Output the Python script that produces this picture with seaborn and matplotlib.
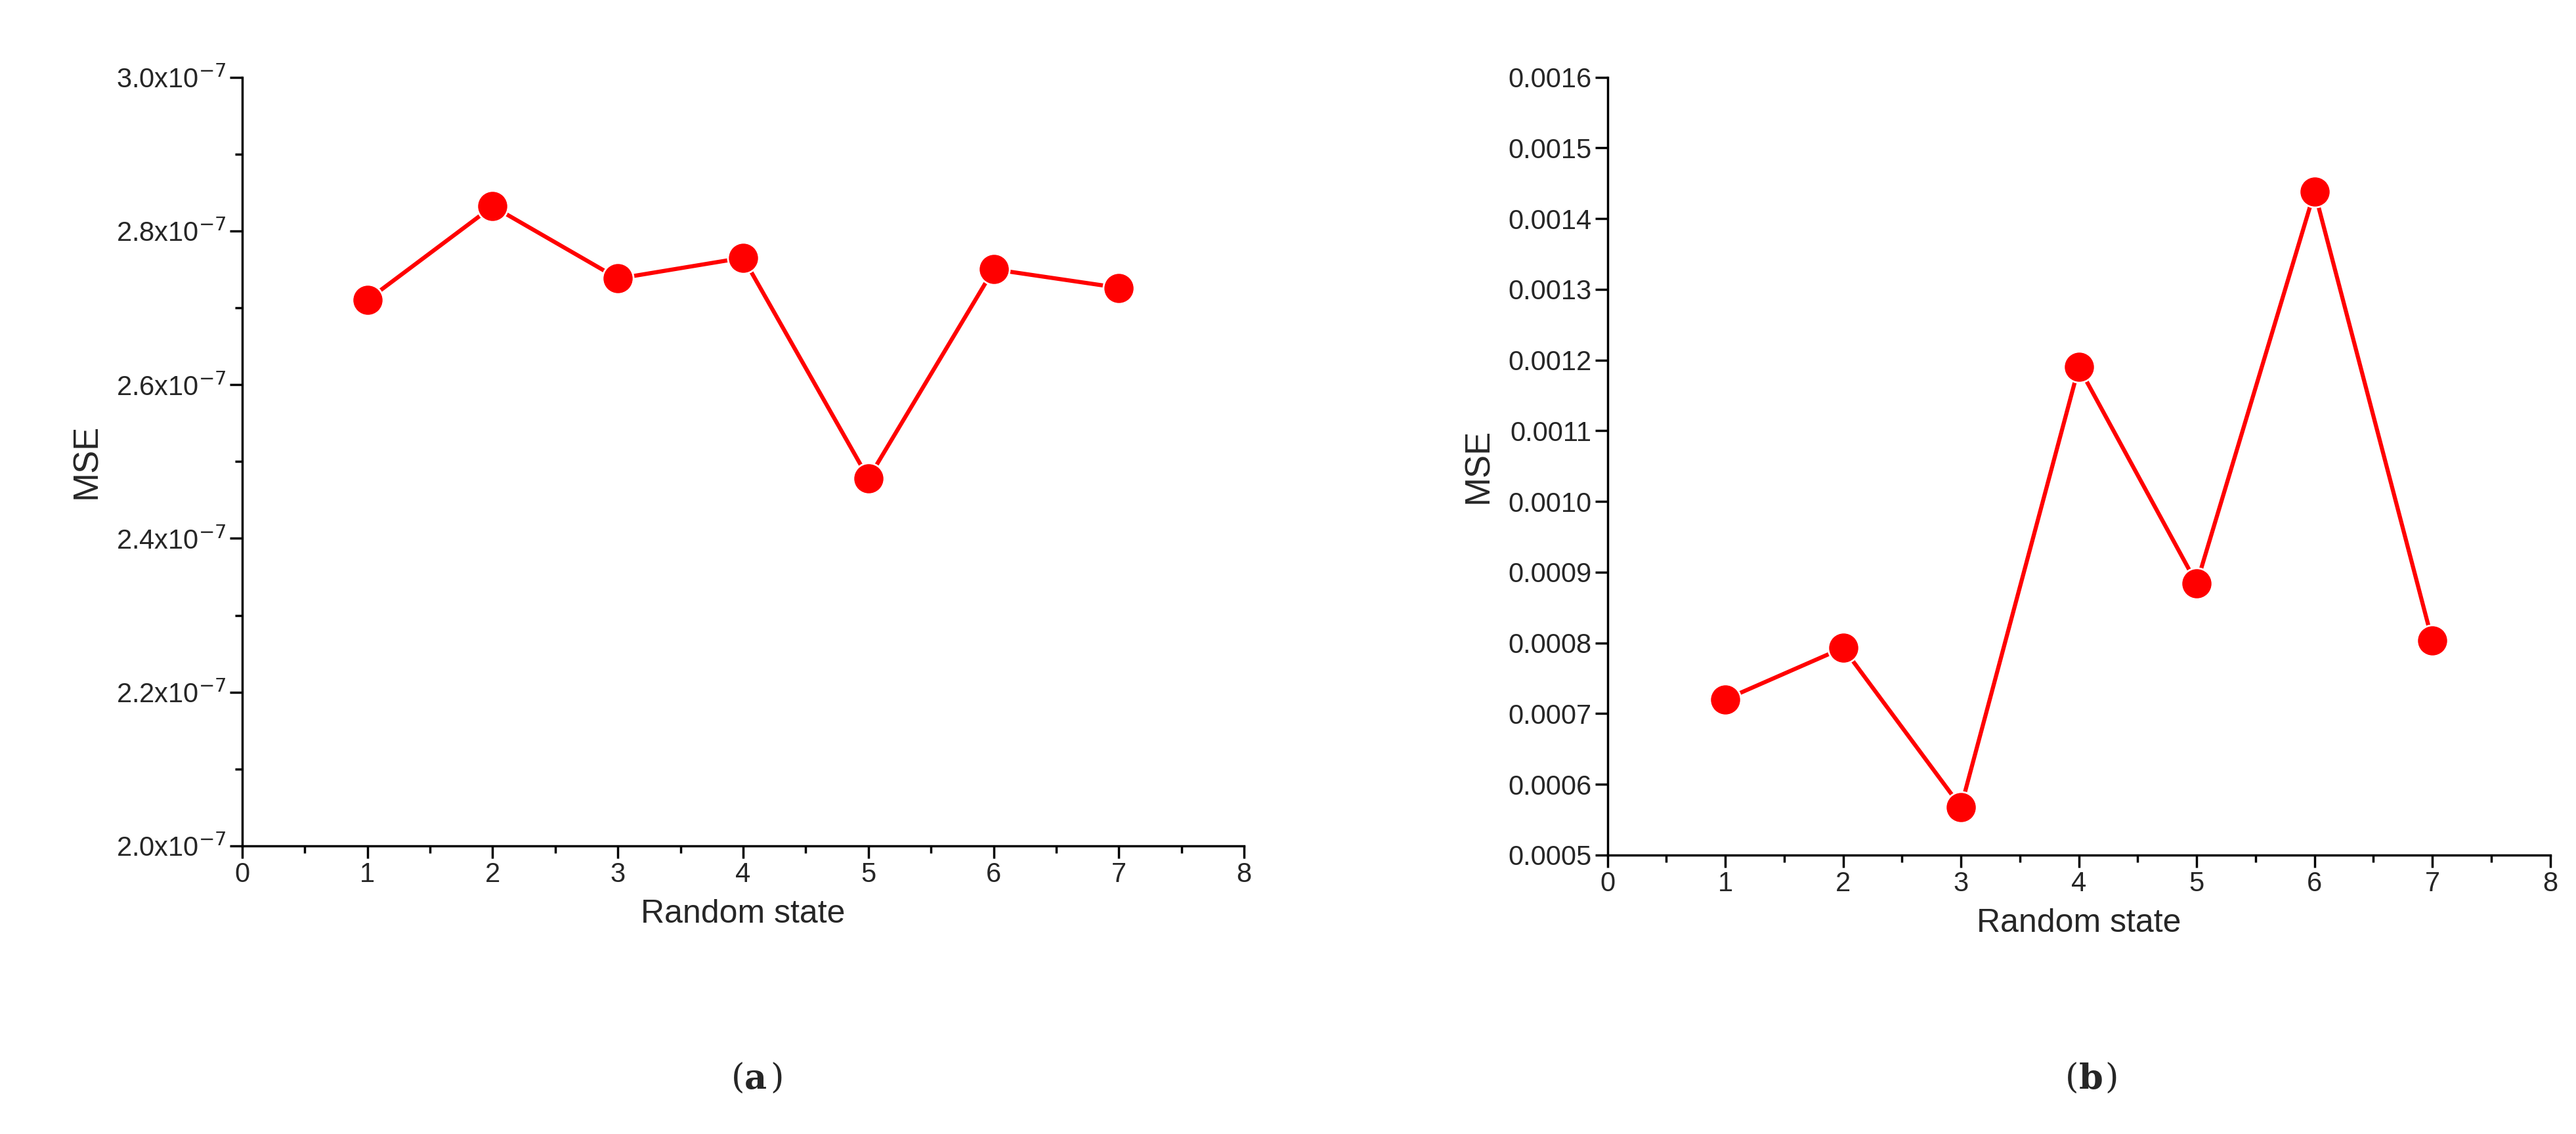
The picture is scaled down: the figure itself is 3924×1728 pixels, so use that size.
import matplotlib
matplotlib.use("Agg")
import matplotlib.pyplot as plt
import seaborn as sns
from matplotlib.ticker import MultipleLocator, FuncFormatter

random_state = [1, 2, 3, 4, 5, 6, 7]
mse_a = [2.71e-7, 2.832e-7, 2.738e-7, 2.765e-7, 2.478e-7, 2.75e-7, 2.726e-7]
mse_b = [0.00072, 0.000793, 0.000568, 0.00119, 0.000884, 0.001438, 0.000803]

sns.set_theme(style="ticks")
plt.rcParams["font.family"] = ["Arial", "Liberation Sans", "DejaVu Sans"]

fig = plt.figure(figsize=(39.24, 17.28), dpi=100)
ax_a = fig.add_axes([0.094, 0.254, 0.389, 0.678])
ax_b = fig.add_axes([0.624, 0.246, 0.366, 0.686])


def style_axis(ax):
    sns.despine(ax=ax)
    for s in ("left", "bottom"):
        ax.spines[s].set_linewidth(2.5)
        ax.spines[s].set_color("black")
    ax.set_xlim(0, 8)
    ax.xaxis.set_major_locator(MultipleLocator(1))
    ax.xaxis.set_minor_locator(MultipleLocator(0.5))
    ax.tick_params(which="major", length=14, width=2.5, labelsize=30, color="black")
    ax.tick_params(which="minor", length=8, width=2.5, color="black")
    ax.set_xlabel("Random state", fontsize=36, labelpad=12)
    ax.set_ylabel("MSE", fontsize=38, labelpad=14)


for ax, vals in ((ax_a, mse_a), (ax_b, mse_b)):
    sns.lineplot(x=random_state, y=vals, ax=ax, color="#ff0000", linewidth=4.5,
                 marker="o", markersize=34, markeredgecolor="white", markeredgewidth=2)
    style_axis(ax)

ax_a.set_ylim(2.0e-7, 3.0e-7)
ax_a.yaxis.set_major_locator(MultipleLocator(0.2e-7))
ax_a.yaxis.set_minor_locator(MultipleLocator(0.1e-7))
ax_a.yaxis.set_major_formatter(FuncFormatter(lambda v, p: f"{v * 1e7:.1f}x10$^{{-7}}$"))

ax_b.set_ylim(0.0005, 0.0016)
ax_b.yaxis.set_major_locator(MultipleLocator(0.0001))
ax_b.yaxis.set_major_formatter(FuncFormatter(lambda v, p: f"{v:.4f}"))

fig.text(0.289, 0.04, "(", fontsize=38, family="DejaVu Serif", ha="right")
fig.text(0.289, 0.04, "a", fontsize=38, family="DejaVu Serif", weight="bold", ha="left")
fig.text(0.299, 0.04, ")", fontsize=38, family="DejaVu Serif", ha="left")
fig.text(0.807, 0.04, "(", fontsize=38, family="DejaVu Serif", ha="right")
fig.text(0.807, 0.04, "b", fontsize=38, family="DejaVu Serif", weight="bold", ha="left")
fig.text(0.817, 0.04, ")", fontsize=38, family="DejaVu Serif", ha="left")

fig.savefig("out.png", dpi=100, facecolor="white")
